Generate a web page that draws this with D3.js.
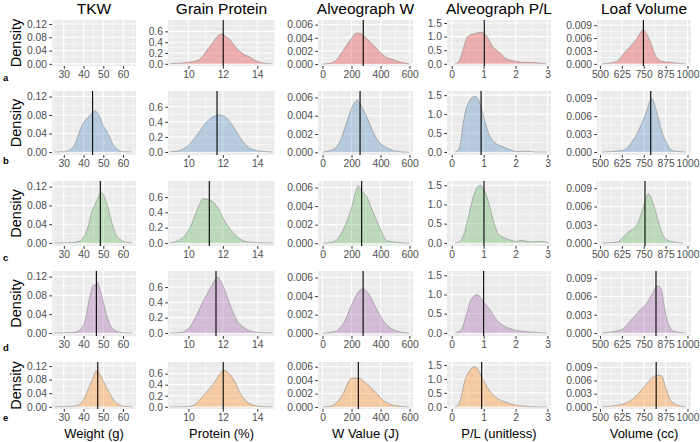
<!DOCTYPE html>
<html><head><meta charset="utf-8">
<script src="https://cdn.jsdelivr.net/npm/d3@7"></script>
<style>body{margin:0;background:#fff}svg{display:block;font-family:"Liberation Sans",Arial,sans-serif}</style>
</head><body><svg id="c" width="700" height="442"></svg>
<script>
// ---------- categories / labels ----------
const columns = ["TKW", "Grain Protein", "Alveograph W", "Alveograph P/L", "Loaf Volume"];
const xTitles = ["Weight (g)", "Protein (%)", "W Value (J)", "P/L (unitless)", "Volume (cc)"];
const rowLabels = ["a", "b", "c", "d", "e"];
const rowColors = ["#E41A1C", "#377EB8", "#4DAF4A", "#984EA3", "#FF7F00"];
const xTicks = [[30, 40, 50, 60], [10, 12, 14], [0, 200, 400, 600], [0, 1, 2, 3], [500, 625, 750, 875, 1000]];
const yTicks = [[0, 0.04, 0.08, 0.12], [0, 0.2, 0.4, 0.6], [0, 0.002, 0.004, 0.006], [0, 0.5, 1.0, 1.5], [0, 0.003, 0.006, 0.009]];
const yFormats = [".2f", ".1f", ".3f", ".1f", ".3f"];
const xDomains = [[24, 66.6], [8.81, 15.03], [-31, 624], [-0.147, 3.11], [483, 1020]];
const yDomains = [[-0.0065, 0.132], [-0.04, 0.81], [-0.0003, 0.0067], [-0.08, 1.61], [-0.0005, 0.0102]];

// ---------- density curves [x, density] per row ----------
const tkwA = [];
const tkwB = [[25,0],[30,0.0005],[33,0.004],[36.4,0.025],[38,0.045],[39.8,0.062],[42.3,0.075],[44,0.082],[45.7,0.089],[47.4,0.083],[50,0.057],[52.5,0.039],[55,0.016],[57.6,0.004],[60,0.0008],[65,0]];
const tkwC = [[25,0],[35,0.001],[37.3,0.003],[40.6,0.016],[42.5,0.038],[44,0.063],[46.5,0.088],[49,0.107],[51.5,0.088],[54,0.049],[56.6,0.016],[59.1,0.006],[62,0.001],[65,0]];
const tkwD = [[25,0],[35,0.001],[37.3,0.004],[40.6,0.023],[43.1,0.076],[44.8,0.101],[45.5,0.103],[46.1,0.101],[46.9,0.108],[49,0.083],[51.5,0.041],[54,0.013],[56.6,0.004],[60,0.0005],[65,0]];
const tkwE = [[25,0],[32,0.0005],[34.7,0.002],[38.1,0.007],[41.5,0.040],[44,0.073],[46.5,0.106],[48.2,0.096],[50.7,0.068],[53.2,0.040],[55.8,0.016],[58.3,0.005],[61,0.001],[65,0]];

const protA = [[8.9,0.003],[9.5,0.012],[10.0,0.03],[10.48,0.056],[10.8,0.13],[11.05,0.24],[11.43,0.40],[11.81,0.54],[11.95,0.55],[12.19,0.50],[12.4,0.45],[12.76,0.30],[13.14,0.19],[13.52,0.13],[13.8,0.08],[14.2,0.025],[14.6,0.006],[14.9,0.001]];
const protB = [[8.9,0.002],[9.3,0.009],[9.9,0.07],[10.48,0.22],[11.06,0.40],[11.64,0.49],[11.75,0.495],[12.22,0.45],[12.6,0.34],[12.8,0.27],[13.19,0.13],[13.58,0.05],[13.97,0.018],[14.55,0.004],[14.9,0]];
const protC = [[8.9,0.001],[9.3,0.02],[9.8,0.10],[10.19,0.25],[10.57,0.47],[10.86,0.58],[11.15,0.565],[11.44,0.535],[11.73,0.45],[12.02,0.32],[12.4,0.19],[12.8,0.087],[13.2,0.026],[13.6,0.009],[14.2,0.002],[14.9,0]];
const protD = [[8.9,0],[9.5,0.004],[10.08,0.077],[10.47,0.23],[10.86,0.42],[11.24,0.57],[11.5,0.68],[11.68,0.73],[12.02,0.61],[12.4,0.38],[12.8,0.17],[13.18,0.077],[13.57,0.026],[13.95,0.01],[14.5,0.002],[14.9,0]];
const protE = [[8.9,0],[9.8,0.002],[10.28,0.023],[10.67,0.13],[11.06,0.27],[11.45,0.415],[11.83,0.59],[12.03,0.66],[12.4,0.59],[12.7,0.45],[13.0,0.25],[13.4,0.09],[13.8,0.025],[14.4,0.003],[14.9,0]];

const wA = [[0,0],[52,0.0001],[98,0.0007],[143,0.0021],[190,0.0036],[236,0.0047],[255,0.0047],[305,0.0039],[350,0.0029],[397,0.0018],[443,0.0010],[488,0.0007],[534,0.0003],[580,0.0001],[600,0]];
const wB = [[0,0],[29,0.0001],[75,0.0003],[121,0.0012],[167,0.0033],[212,0.0052],[240,0.0057],[270,0.0050],[305,0.0039],[339,0.0026],[385,0.0012],[431,0.0006],[488,0.0002],[557,0.00003],[600,0]];
const wC = [[0,0],[60,0.0001],[100,0.0004],[150,0.0017],[200,0.0038],[230,0.0056],[247,0.0062],[270,0.0056],[290,0.0053],[305,0.0050],[350,0.0033],[397,0.0016],[443,0.0003],[512,0.0001],[600,0]];
const wD = [[0,0],[60,0.0001],[100,0.0003],[150,0.0012],[200,0.0030],[250,0.0045],[280,0.0048],[320,0.0042],[360,0.0030],[400,0.0018],[450,0.0008],[500,0.0003],[550,0.0001],[600,0]];
const wE = [[0,0],[52,0.0001],[98,0.0007],[143,0.002],[178,0.0037],[201,0.0043],[247,0.0043],[281,0.0039],[328,0.003],[374,0.002],[419,0.001],[466,0.0004],[534,0.0001],[600,0]];

const plA = [[0.1,0],[0.2,0.05],[0.3,0.3],[0.4,0.7],[0.5,1.0],[0.68,1.10],[0.94,1.16],[1.1,1.0],[1.3,0.6],[1.5,0.42],[1.72,0.18],[1.93,0.11],[2.24,0.05],[2.56,0.05],[2.7,0.03],[2.98,0]];
const plB = [[0.1,0],[0.2,0.04],[0.26,0.15],[0.36,0.76],[0.52,1.3],[0.73,1.47],[0.89,1.28],[1.04,0.80],[1.2,0.41],[1.36,0.24],[1.57,0.15],[1.83,0.06],[2.09,0.01],[2.35,0.02],[2.66,0],[3.0,0]];
const plC = [[0.1,0],[0.26,0.04],[0.42,0.33],[0.57,0.85],[0.73,1.33],[0.89,1.50],[0.99,1.41],[1.15,1.07],[1.3,0.59],[1.46,0.24],[1.72,0.11],[2.04,0.04],[2.19,0.07],[2.45,0.026],[2.82,0.04],[3.05,0]];
const plD = [[0.1,0],[0.3,0.08],[0.45,0.45],[0.6,0.85],[0.8,1.0],[1.0,0.8],[1.2,0.6],[1.4,0.35],[1.6,0.2],[1.8,0.12],[2.0,0.07],[2.5,0.02],[3.0,0]];
const plE = [[0.1,0],[0.18,0.03],[0.26,0.2],[0.42,0.97],[0.57,1.32],[0.73,1.44],[0.89,1.2],[1.04,0.85],[1.2,0.56],[1.41,0.32],[1.62,0.2],[1.93,0.08],[2.24,0.024],[2.66,0],[3.0,0]];

const loafA = [[510,0],[595,0.0005],[633,0.0023],[671,0.004],[709,0.0058],[747,0.0079],[785,0.0054],[823,0.0015],[861,0.0005],[899,0.0004],[956,0.0001],[990,0]];
const loafB = [[510,0],[614,0.0002],[652,0.0006],[690,0.002],[738,0.0047],[766,0.0068],[795,0.009],[823,0.0068],[852,0.0036],[880,0.0015],[918,0.0002],[990,0]];
const loafC = [[510,0],[595,0.0001],[633,0.001],[671,0.002],[700,0.0025],[728,0.0041],[757,0.0068],[776,0.0081],[804,0.0065],[833,0.0036],[861,0.0012],[899,0.0003],[975,0]];
const loafD = [[510,0],[620,0.0005],[680,0.0022],[730,0.0038],[770,0.005],[800,0.0065],[830,0.0078],[850,0.0072],[870,0.004],[890,0.0015],[920,0.0003],[990,0]];
const loafE = [[510,0],[595,0.0003],[652,0.0009],[690,0.0019],[728,0.0034],[766,0.0052],[804,0.0068],[833,0.0072],[852,0.007],[880,0.0037],[909,0.0012],[947,0.0003],[990,0]];

// mean (reference) lines per column, rows a..e (null = none)
const tkwMean = [null, 44.6, 48.5, 46.5, 47.2];
const protMean = [12.02, 11.66, 11.21, 11.6, 12.02];
const wMean = [281, 259, 270, 280, 247];
const plMean = [1.02, 0.92, 1.01, 1.0, 0.94];
const loafMean = [748, 790, 757, 820, 821];

// ---------- layout ----------
const colX = [[52,136],[168,275],[318,413],[447,551],[597,691]];
const rowY = [[20,66],[91,155],[181,246],[271,336],[362,409]];
const rowLabelY = [81, 164, 261, 351, 421];

const curves = [[tkwA,tkwB,tkwC,tkwD,tkwE],[protA,protB,protC,protD,protE],[wA,wB,wC,wD,wE],[plA,plB,plC,plD,plE],[loafA,loafB,loafC,loafD,loafE]];
const means = [tkwMean, protMean, wMean, plMean, loafMean];

const svg = d3.select("#c");
const tickCol = "#4D4D4D";

function minorBreaks(ticks, dom) {
  const step = ticks[1] - ticks[0];
  const out = [];
  for (let v = ticks[0] - step / 2; v <= ticks[ticks.length - 1] + step / 2 + 1e-9; v += step) {
    if (v >= Math.min(...dom) && v <= Math.max(...dom)) out.push(v);
  }
  return out;
}

columns.forEach((title, ci) => {
  const [x0, x1] = colX[ci];
  const x = d3.scaleLinear().domain(xDomains[ci]).range([x0, x1]);
  svg.append("text").attr("x", (x0 + x1) / 2).attr("y", 14).attr("text-anchor", "middle")
    .attr("font-size", 15.5).attr("fill", "#000").text(title);
  rowLabels.forEach((lab, ri) => {
    const [y0, y1] = rowY[ri];
    const y = d3.scaleLinear().domain(yDomains[ci]).range([y1, y0]);
    const g = svg.append("g");
    g.append("rect").attr("x", x0).attr("y", y0).attr("width", x1 - x0).attr("height", y1 - y0).attr("fill", "#EBEBEB");
    const xm = minorBreaks(xTicks[ci], xDomains[ci]);
    const ym = minorBreaks(yTicks[ci], yDomains[ci]);
    g.selectAll(null).data(xm).join("line").attr("x1", d => x(d)).attr("x2", d => x(d)).attr("y1", y0).attr("y2", y1).attr("stroke", "#fff").attr("stroke-width", 0.55);
    g.selectAll(null).data(ym).join("line").attr("y1", d => y(d)).attr("y2", d => y(d)).attr("x1", x0).attr("x2", x1).attr("stroke", "#fff").attr("stroke-width", 0.55);
    g.selectAll(null).data(xTicks[ci]).join("line").attr("x1", d => x(d)).attr("x2", d => x(d)).attr("y1", y0).attr("y2", y1).attr("stroke", "#fff").attr("stroke-width", 1.1);
    g.selectAll(null).data(yTicks[ci]).join("line").attr("y1", d => y(d)).attr("y2", d => y(d)).attr("x1", x0).attr("x2", x1).attr("stroke", "#fff").attr("stroke-width", 1.1);

    const data = curves[ci][ri];
    if (data.length) {
      const area = d3.area().x(d => x(d[0])).y0(y(0)).y1(d => y(d[1])).curve(d3.curveMonotoneX);
      const line = d3.line().x(d => x(d[0])).y(d => y(d[1])).curve(d3.curveMonotoneX);
      g.append("path").attr("d", area(data)).attr("fill", rowColors[ri]).attr("fill-opacity", 0.3);
      g.append("path").attr("d", line(data)).attr("fill", "none").attr("stroke", "#6f6f6f").attr("stroke-opacity", 0.75).attr("stroke-width", 0.6);
    }
    const m = means[ci][ri];
    if (m != null) {
      g.append("line").attr("x1", x(m)).attr("x2", x(m)).attr("y1", y0).attr("y2", y1).attr("stroke", "#000").attr("stroke-width", 1.1);
    }
    // axes
    const ax = g.append("g").attr("transform", `translate(0,${y1})`)
      .call(d3.axisBottom(x).tickValues(xTicks[ci]).tickSize(2.75).tickPadding(2.3).tickFormat(d3.format("d")));
    const ay = g.append("g").attr("transform", `translate(${x0},0)`)
      .call(d3.axisLeft(y).tickValues(yTicks[ci]).tickSize(2.75).tickPadding(2.3).tickFormat(d3.format(yFormats[ci])));
    [ax, ay].forEach(a => {
      a.select(".domain").remove();
      a.selectAll(".tick line").attr("stroke", "#333").attr("stroke-width", 1);
      a.selectAll(".tick text").attr("fill", tickCol).attr("font-size", 10.3).attr("font-family", "Liberation Sans, Arial, sans-serif");
    });
    if (ci === 0) {
      svg.append("text").attr("transform", `translate(21,${(y0 + y1) / 2}) rotate(-90)`)
        .attr("text-anchor", "middle").attr("font-size", 14.5).attr("fill", "#000").text("Density");
      svg.append("text").attr("x", 3).attr("y", rowLabelY[ri]).attr("font-size", 9.5).attr("font-weight", "bold").attr("fill", "#000").text(lab);
    }
    if (ri === 4) {
      svg.append("text").attr("x", (x0 + x1) / 2).attr("y", 437.5).attr("text-anchor", "middle")
        .attr("font-size", 13).attr("fill", "#000").text(xTitles[ci]);
    }
  });
});
</script></body></html>
